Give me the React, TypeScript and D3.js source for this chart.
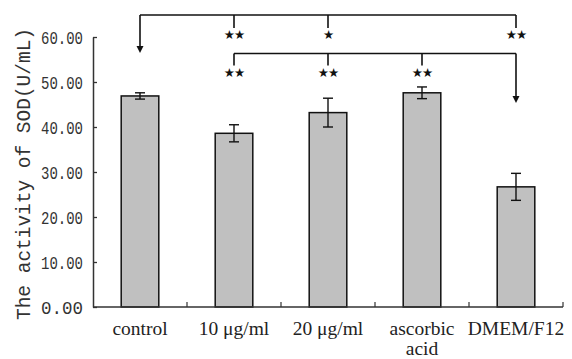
import React, { useEffect, useRef } from "react";
import * as d3 from "d3";

// groups and SOD activity (U/mL), mean and error
const categories = ["control", "10 μg/ml", "20 μg/ml", "ascorbic acid", "DMEM/F12"];
const means = [46.9, 38.6, 43.2, 47.6, 26.7];
const errors = [0.7, 1.9, 3.2, 1.3, 3.0];
const yTicks = [0, 10, 20, 30, 40, 50, 60];

// significance brackets: arrow target + compared groups with marks
const bracketTop = { target: "control", groups: ["10 μg/ml", "20 μg/ml", "DMEM/F12"], marks: ["**", "*", "**"] };
const bracketLow = { target: "DMEM/F12", groups: ["10 μg/ml", "20 μg/ml", "ascorbic acid"], marks: ["**", "**", "**"] };

export default function App() {
  const svgRef = useRef<SVGSVGElement>(null);

  useEffect(() => {
    const width = 572;
    const height = 359;
    const svg = d3.select(svgRef.current).attr("width", width).attr("height", height);
    svg.selectAll("*").remove();

    const x = d3.scaleBand().domain(categories).range([93, 563]);
    const y = d3.scaleLinear().domain([0, 60]).range([307, 37]);
    const barW = x.bandwidth() * 0.4;
    const cx = (c: string) => (x(c) as number) + x.bandwidth() / 2;

    // bars
    svg
      .selectAll(".bar")
      .data(means)
      .enter()
      .append("rect")
      .attr("x", (d, i) => cx(categories[i]) - barW / 2)
      .attr("y", (d) => y(d))
      .attr("width", barW)
      .attr("height", (d) => y(0) - y(d))
      .attr("fill", "#c0c0c0")
      .attr("stroke", "#111")
      .attr("stroke-width", 1.5);

    // error bars
    const eb = svg.append("g").attr("stroke", "#111").attr("stroke-width", 1.4);
    means.forEach((m, i) => {
      const c = cx(categories[i]);
      const e = errors[i];
      eb.append("line").attr("x1", c).attr("x2", c).attr("y1", y(m + e)).attr("y2", y(m - e));
      eb.append("line").attr("x1", c - 5).attr("x2", c + 5).attr("y1", y(m + e)).attr("y2", y(m + e));
      eb.append("line").attr("x1", c - 5).attr("x2", c + 5).attr("y1", y(m - e)).attr("y2", y(m - e));
    });

    // y axis
    const yAxis = d3.axisLeft(y).tickValues(yTicks).tickSizeInner(-4).tickSizeOuter(0).tickPadding(10).tickFormat(d3.format(".2f"));
    const gy = svg.append("g").attr("transform", "translate(93,0)").call(yAxis);
    gy.select(".domain").attr("stroke", "#333").attr("stroke-width", 1.5);
    gy.selectAll(".tick line").attr("stroke", "#333").attr("stroke-width", 1.3);
    gy.selectAll(".tick text")
      .attr("font-family", "'Liberation Mono', 'DejaVu Sans Mono', monospace")
      .attr("font-size", 19)
      .attr("fill", "#333")
      .attr("x", -10)
      .attr("textLength", 42)
      .attr("lengthAdjust", "spacingAndGlyphs");

    // x axis with tick marks at band boundaries pointing up
    const gx = svg.append("g").attr("stroke", "#333").attr("stroke-width", 1.5);
    gx.append("line").attr("x1", 93).attr("x2", 563).attr("y1", y(0)).attr("y2", y(0));
    categories.forEach((c) => {
      const bx = (x(c) as number) + x.bandwidth();
      gx.append("line").attr("x1", bx).attr("x2", bx).attr("y1", y(0)).attr("y2", y(0) - 5).attr("stroke-width", 1.2);
    });

    // x labels
    const xl = svg
      .append("g")
      .attr("font-family", "'Liberation Serif', 'Times New Roman', serif")
      .attr("font-size", 19.5)
      .attr("fill", "#222")
      .attr("text-anchor", "middle");
    categories.forEach((c) => {
      const parts = c === "ascorbic acid" ? ["ascorbic", "acid"] : [c];
      parts.forEach((p, j) => {
        xl.append("text").attr("x", cx(c)).attr("y", 335 + j * 20).text(p);
      });
    });

    // y label
    svg
      .append("text")
      .attr("transform", `translate(30,${(28 + 320) / 2}) rotate(-90)`)
      .attr("text-anchor", "middle")
      .attr("font-family", "'Liberation Mono', 'DejaVu Sans Mono', monospace")
      .attr("font-size", 21)
      .attr("fill", "#333")
      .attr("textLength", 292)
      .attr("lengthAdjust", "spacingAndGlyphs")
      .text("The activity of SOD(U/mL)");

    // brackets
    const drawBracket = (b: typeof bracketTop, lineY: number, tickLen: number, arrowY: number) => {
      const g = svg.append("g");
      const xs = [b.target, ...b.groups].map(cx);
      g.append("line")
        .attr("x1", d3.min(xs) as number)
        .attr("x2", d3.max(xs) as number)
        .attr("y1", lineY)
        .attr("y2", lineY)
        .attr("stroke", "#111")
        .attr("stroke-width", 1.6);
      const tx = cx(b.target);
      g.append("line").attr("x1", tx).attr("x2", tx).attr("y1", lineY).attr("y2", arrowY - 6).attr("stroke", "#111").attr("stroke-width", 1.6);
      g.append("path")
        .attr("d", `M${tx - 3.5},${arrowY - 7}L${tx + 3.5},${arrowY - 7}L${tx},${arrowY}Z`)
        .attr("fill", "#111");
      b.groups.forEach((gname, i) => {
        const gx0 = cx(gname);
        g.append("line").attr("x1", gx0).attr("x2", gx0).attr("y1", lineY).attr("y2", lineY + tickLen).attr("stroke", "#111").attr("stroke-width", 1.6);
        g.append("text")
          .attr("x", gx0)
          .attr("y", lineY + tickLen + 11)
          .attr("text-anchor", "middle")
          .attr("font-family", "'DejaVu Sans', sans-serif")
          .attr("font-size", 12.5)
          .attr("letter-spacing", -1)
          .attr("fill", "#111")
          .text(b.marks[i].replace(/\*/g, "★"));
      });
    };
    drawBracket(bracketTop, 15, 13, 53);
    drawBracket(bracketLow, 53.5, 12, 103);
  }, []);

  return (
    <div>
      <svg ref={svgRef} style={{ position: "absolute", left: 0, top: 0, background: "#fff" }}></svg>
    </div>
  );
}
